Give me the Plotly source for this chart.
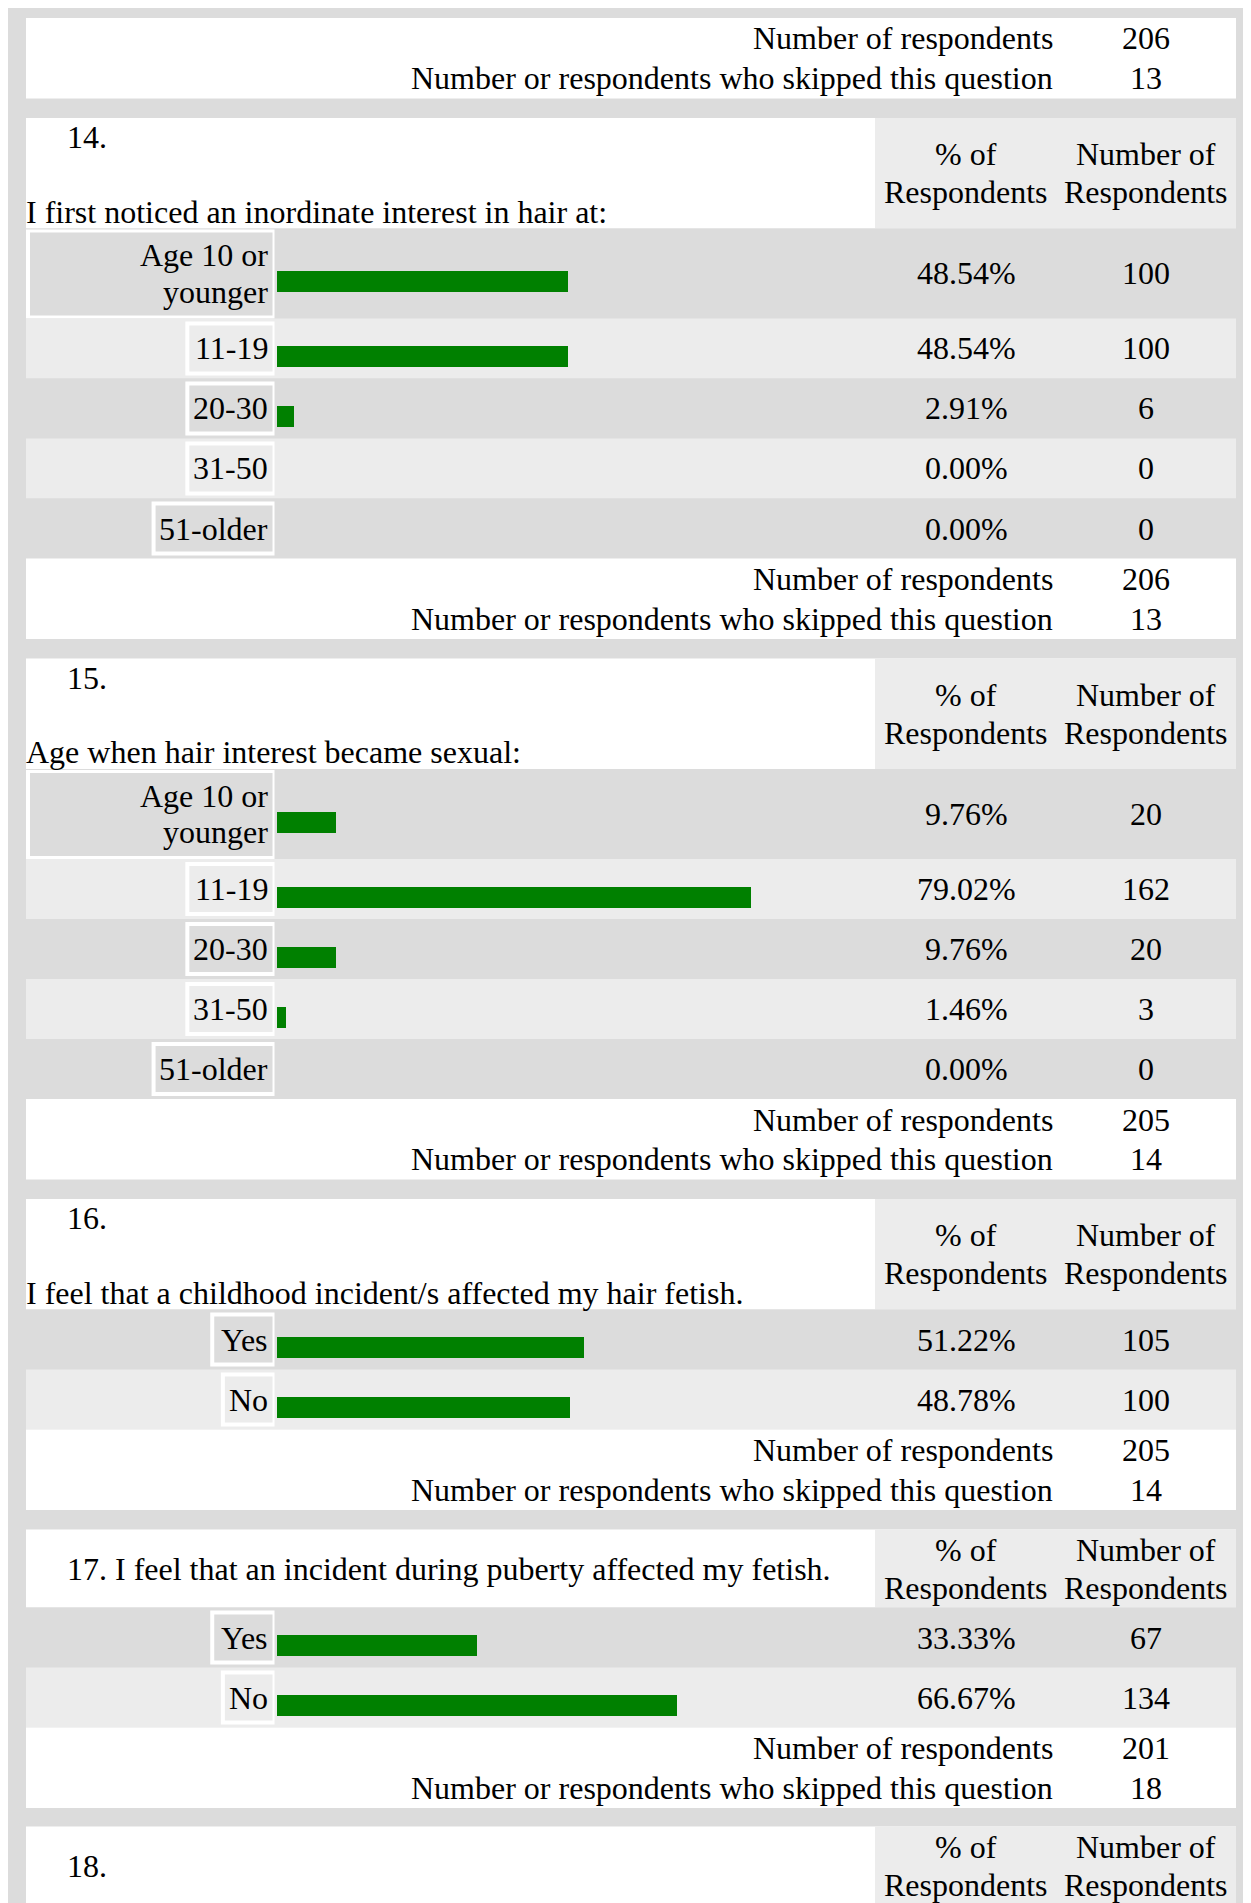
import plotly.graph_objects as go

W, H = 1251, 1903
OFF = 8  # the page body margin pushes the figure 8px right and down

# ---- data ----
q13_answered, q13_skipped = 206, 13

q14_text = "I first noticed an inordinate interest in hair at:"
q14_labels = ["Age 10 or<br>younger", "11-19", "20-30", "31-50", "51-older"]
q14_pct = [48.54, 48.54, 2.91, 0.00, 0.00]
q14_count = [100, 100, 6, 0, 0]
q14_answered, q14_skipped = 206, 13

q15_text = "Age when hair interest became sexual:"
q15_labels = ["Age 10 or<br>younger", "11-19", "20-30", "31-50", "51-older"]
q15_pct = [9.76, 79.02, 9.76, 1.46, 0.00]
q15_count = [20, 162, 20, 3, 0]
q15_answered, q15_skipped = 205, 14

q16_text = "I feel that a childhood incident/s affected my hair fetish."
q16_labels = ["Yes", "No"]
q16_pct = [51.22, 48.78]
q16_count = [105, 100]
q16_answered, q16_skipped = 205, 14

q17_text = "I feel that an incident during puberty affected my fetish."
q17_labels = ["Yes", "No"]
q17_pct = [33.33, 66.67]
q17_count = [67, 134]
q17_answered, q17_skipped = 201, 18

questions = [
    dict(num=14, text=q14_text, labels=q14_labels, pct=q14_pct, count=q14_count,
         answered=q14_answered, skipped=q14_skipped, tall=True),
    dict(num=15, text=q15_text, labels=q15_labels, pct=q15_pct, count=q15_count,
         answered=q15_answered, skipped=q15_skipped, tall=True),
    dict(num=16, text=q16_text, labels=q16_labels, pct=q16_pct, count=q16_count,
         answered=q16_answered, skipped=q16_skipped, tall=True),
    dict(num=17, text=q17_text, labels=q17_labels, pct=q17_pct, count=q17_count,
         answered=q17_answered, skipped=q17_skipped, tall=False),
]

# ---- page geometry (pixels, measured from the page's top-left) ----
FONT = "Liberation Serif, Times New Roman, serif"
FS = 32
DARK, LIGHT = "#dcdcdc", "#ececec"
GREEN = "#008000"
X0, X1 = 26, 1236
HEAD_X = 875
PCT_X, CNT_X = 966, 1145.5
FOOT_RX = 1055
LABEL_RX = 268
BAR_X0 = 276.7
BAR_LEN = 600
ROW_H, ROW2_H = 60, 90
FOOT_H, GAP = 80.5, 19.5
HEAD_TALL, HEAD_SHORT = 110.5, 78

FW, FH = W - OFF, H - OFF

TIMES_W = {'-': .333, 'Y': .722, 'N': .722, 'e': .444, 's': .389,
           'o': .5, 'l': .278, 'd': .5, 'r': .333}


def text_w(s):
    return sum(TIMES_W.get(c, .5) for c in s) * FS


def px(x):
    return (x - OFF) / FW


def py(y):
    return 1 - (y - OFF) / FH


shapes, annotations = [], []


def rect(x0, y0, x1, y1, color):
    shapes.append(dict(type="rect", xref="paper", yref="paper",
                       x0=px(x0), x1=px(x1), y0=py(y1), y1=py(y0),
                       fillcolor=color, line_width=0, layer="below"))


def text(x, y, s, anchor="center"):
    annotations.append(dict(xref="paper", yref="paper", x=px(x), y=py(y),
                            text=s, showarrow=False, xanchor=anchor, yanchor="middle",
                            font=dict(family=FONT, size=FS, color="black")))


def header(top, h, num, qtext, tall):
    rect(X0, top, X1, top + h, "white")
    rect(HEAD_X, top, X1, top + h, LIGHT)
    c = top + h / 2
    text(PCT_X, c - 19, "% of")
    text(PCT_X, c + 19, "Respondents")
    text(CNT_X, c - 19, "Number of")
    text(CNT_X, c + 19, "Respondents")
    if tall:
        text(65, top + 19, f"{num}.", "left")
        text(24, top + h - 17, qtext, "left")
    else:
        text(65, c, f"{num}. {qtext}" if qtext else f"{num}.", "left")


def footer(top, answered, skipped):
    rect(X0, top, X1, top + FOOT_H, "white")
    text(FOOT_RX, top + 20.5, "Number of respondents", "right")
    text(CNT_X, top + 20.5, str(answered))
    text(FOOT_RX, top + 60, "Number or respondents who skipped this question", "right")
    text(CNT_X, top + 60, str(skipped))


fig = go.Figure()

# outer grey frame
rect(OFF, OFF, W, H, DARK)

y = 18
footer(y, q13_answered, q13_skipped)
y += FOOT_H + GAP

for q in questions:
    hh = HEAD_TALL if q["tall"] else HEAD_SHORT
    header(y, hh, q["num"], q["text"], q["tall"])
    y += hh
    bar_y = []
    for i, (lab, p, n) in enumerate(zip(q["labels"], q["pct"], q["count"])):
        two = "<br>" in lab
        h = ROW2_H if two else ROW_H
        color = DARK if i % 2 == 0 else LIGHT
        rect(X0, y, X1, y + h, color)
        c = y + h / 2
        if two:
            rect(X0, y + 1, 274.5, y + h, "white")
            rect(30, y + 4, 272.5, y + h - 3, color)
        else:
            left = LABEL_RX - text_w(lab) - 8
            rect(left, y + 3, 274.5, y + h - 3, "white")
            rect(left + 4, y + 7, 272.5, y + h - 7, color)
        lines = lab.split("<br>")
        for k, line in enumerate(lines):
            text(LABEL_RX + 2, c + (k - (len(lines) - 1) / 2) * 36.5, line, "right")
        text(PCT_X, c, f"{p:.2f}%")
        text(CNT_X, c, str(n))
        bar_y.append(c + 8)
        y += h
    fig.add_trace(go.Bar(x=q["pct"], y=bar_y, orientation="h", width=21,
                         marker=dict(color=GREEN, line_width=0),
                         name=f"Q{q['num']}", showlegend=False,
                         hovertemplate="%{x:.2f}%<extra></extra>"))
    footer(y, q["answered"], q["skipped"])
    y += FOOT_H + GAP

# question 18 header, cut off by the page edge
header(y - 1, HEAD_SHORT, 18, "", False)

fig.update_layout(
    width=FW, height=FH,
    margin=dict(l=0, r=0, t=0, b=0),
    paper_bgcolor="white",
    plot_bgcolor="rgba(0,0,0,0)",
    shapes=shapes,
    annotations=annotations,
    bargap=0,
    xaxis=dict(domain=[px(BAR_X0), px(BAR_X0 + BAR_LEN)], range=[0, 100],
               visible=False, fixedrange=True),
    yaxis=dict(domain=[0, 1], range=[H, OFF], visible=False, fixedrange=True),
)

fig.write_html("out.html")
